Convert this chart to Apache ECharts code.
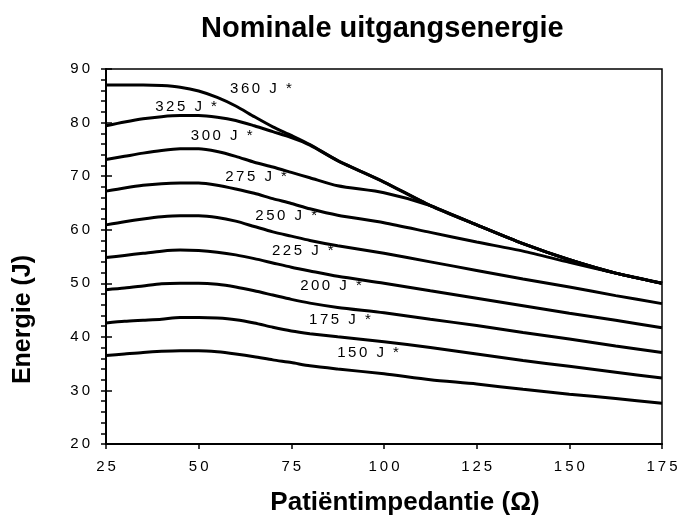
<!DOCTYPE html>
<html><head><meta charset="utf-8">
<script src="https://cdn.jsdelivr.net/npm/echarts@6/dist/echarts.min.js"></script>
<style>html,body{margin:0;padding:0;background:#fff}#c{width:680px;height:525px}</style>
</head><body><div id="c"></div>
<script>
// Patient impedance (ohm)
const impedance = [25, 30, 35, 40, 45, 50, 55, 60, 65, 70, 75, 80, 87.5, 100, 112.5, 125, 137.5, 150, 162.5, 175];
// Delivered energy (J) per nominal setting
const e360 = [87.0, 87.0, 87.0, 86.9, 86.6, 85.9, 84.7, 83.1, 81.1, 79.2, 77.6, 75.9, 72.9, 68.9, 64.5, 60.9, 57.4, 54.4, 51.9, 50.0];
const e325 = [79.4, 80.1, 80.7, 81.1, 81.3, 81.3, 81.0, 80.4, 79.4, 78.3, 77.2, 75.8, 72.9, 68.9, 64.5, 60.9, 57.4, 54.4, 51.9, 50.0];
const e300 = [73.1, 73.7, 74.3, 74.8, 75.1, 75.1, 74.6, 73.7, 72.6, 71.7, 70.7, 69.7, 68.2, 66.9, 64.5, 60.9, 57.4, 54.4, 51.9, 50.0];
const e275 = [67.2, 67.8, 68.3, 68.6, 68.7, 68.7, 68.3, 67.6, 66.8, 65.8, 64.9, 63.9, 62.7, 61.3, 59.5, 57.7, 56.0, 53.9, 51.9, 50.0];
const e250 = [60.9, 61.5, 62.0, 62.4, 62.6, 62.6, 62.3, 61.6, 60.6, 59.6, 58.8, 58.0, 57.0, 55.6, 54.0, 52.4, 50.8, 49.3, 47.7, 46.2];
const e225 = [54.8, 55.2, 55.6, 56.0, 56.2, 56.1, 55.8, 55.3, 54.6, 53.8, 53.0, 52.3, 51.3, 50.0, 48.6, 47.2, 45.8, 44.4, 43.1, 41.7];
const e200 = [48.8, 49.1, 49.5, 49.9, 50.0, 50.0, 49.8, 49.3, 48.6, 47.8, 47.0, 46.3, 45.5, 44.5, 43.3, 42.1, 40.8, 39.6, 38.3, 37.1];
const e175 = [42.6, 42.9, 43.1, 43.3, 43.6, 43.6, 43.5, 43.2, 42.6, 41.8, 41.1, 40.6, 40.0, 39.1, 38.0, 36.8, 35.6, 34.5, 33.4, 32.3];
const e150 = [36.5, 36.8, 37.1, 37.3, 37.4, 37.4, 37.2, 36.8, 36.3, 35.7, 35.2, 34.6, 34.0, 33.1, 32.0, 31.2, 30.2, 29.3, 28.5, 27.6];
const curveNames = ['360 J *', '325 J *', '300 J *', '275 J *', '250 J *', '225 J *', '200 J *', '175 J *', '150 J *'];
// curve label anchors (data units)
const labelZ = [66.8, 46.6, 56.2, 65.5, 73.6, 78.1, 85.7, 88.1, 95.7];
const labelE = [86.3, 83.0, 77.6, 69.9, 62.5, 56.0, 49.6, 43.1, 37.0];

const curves = [e360, e325, e300, e275, e250, e225, e200, e175, e150];
const FONT = 'Liberation Sans, Arial, sans-serif';
const spaced = (s, sep) => String(s).split('').join(sep);

const series = curves.map((vals, k) => ({
  type: 'line',
  name: curveNames[k],
  xAxisIndex: 0, yAxisIndex: 0,
  data: impedance.map((z, i) => [z, vals[i]]),
  smooth: 0.25,
  showSymbol: false,
  symbol: 'none',
  lineStyle: { color: '#000', width: 3 },
  silent: true,
  z: 3,
  markPoint: {
    symbol: 'circle', symbolSize: 0, silent: true,
    data: [{ coord: [labelZ[k], labelE[k]] }],
    label: {
      show: true, position: 'inside', color: '#000',
      fontFamily: FONT, fontSize: 15,
      formatter: () => spaced(curveNames[k], '\u2006')
    }
  }
}));

const chart = echarts.init(document.getElementById('c'), null, { renderer: 'canvas' });
chart.setOption({
  animation: false,
  backgroundColor: '#fff',
  title: {
    text: 'Nominale uitgangsenergie',
    left: 201, top: 14, padding: 0,
    textStyle: { fontFamily: FONT, fontSize: 29, fontWeight: 'bold', color: '#000' }
  },
  grid: {
    left: 106, right: 18, top: 69, bottom: 81,
    show: true, borderColor: '#000', borderWidth: 1.5,
    backgroundColor: 'transparent', containLabel: false, outerBoundsMode: 'none'
  },
  xAxis: [{
    type: 'value', min: 25, max: 175, interval: 25,
    name: 'Patiëntimpedantie (Ω)', nameLocation: 'middle', nameGap: 46,
    nameTextStyle: { fontFamily: FONT, fontSize: 26, fontWeight: 'bold', color: '#000', padding: [0, 0, 0, 42] },
    axisLine: { onZero: false, lineStyle: { color: '#000', width: 2 } },
    axisTick: { show: true, inside: false, length: 5, lineStyle: { color: '#000', width: 1.5 } },
    axisLabel: { margin: 15, color: '#000', fontFamily: FONT, fontSize: 15, formatter: v => spaced(v, '\u2009') },
    splitLine: { show: false }
  }],
  yAxis: [{
    type: 'value', min: 20, max: 90, interval: 10, position: 'left',
    name: 'Energie (J)', nameLocation: 'middle', nameGap: 70,
    nameTextStyle: { fontFamily: FONT, fontSize: 25, fontWeight: 'bold', color: '#000', padding: [0, 126, 0, 0] },
    axisLine: { onZero: false, lineStyle: { color: '#000', width: 2 } },
    axisTick: { show: true, inside: false, length: 5, lineStyle: { color: '#000', width: 1.5 } },
    minorTick: { show: true, splitNumber: 5, length: 5, lineStyle: { color: '#000', width: 1.5 } },
    axisLabel: { margin: 16, color: '#000', fontFamily: FONT, fontSize: 15, formatter: v => spaced(v, '\u2009') },
    splitLine: { show: false }
  }, {
    type: 'value', min: 20, max: 90, interval: 10, position: 'left', offset: 0,
    axisLine: { show: false },
    axisTick: { show: true, inside: true, length: 6, lineStyle: { color: '#000', width: 1.5 } },
    axisLabel: { show: false },
    splitLine: { show: false }
  }],
  series: series
});
</script>
</body></html>
